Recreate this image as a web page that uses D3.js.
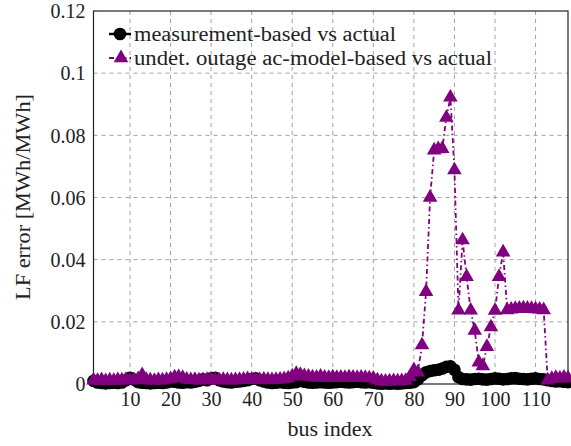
<!DOCTYPE html>
<html>
<head>
<meta charset="utf-8">
<script src="https://cdn.jsdelivr.net/npm/d3@7"></script>
<style>
  body { margin: 0; background: #fff; }
  text { font-family: "Liberation Serif", "DejaVu Serif", serif; fill: #222; }
</style>
</head>
<body>
<div id="chart"></div>
<script>
// bus 1..118
var buses = d3.range(1, 119);

// measurement-based vs actual
var measErr = [
  0.0010, 0.0005, 0.0003, 0.0002, 0.0003, 0.0004, 0.0003, 0.0005, 0.0012, 0.0020,
  0.0014, 0.0006, 0.0004, 0.0003, 0.0002, 0.0003, 0.0004, 0.0003, 0.0005, 0.0008,
  0.0007, 0.0005, 0.0004, 0.0006, 0.0005, 0.0007, 0.0010, 0.0015, 0.0012, 0.0018,
  0.0020, 0.0012, 0.0008, 0.0006, 0.0005, 0.0007, 0.0008, 0.0010, 0.0012, 0.0016,
  0.0018, 0.0012, 0.0008, 0.0005, 0.0003, 0.0004, 0.0006, 0.0004, 0.0003, 0.0005,
  0.0006, 0.0010, 0.0007, 0.0005, 0.0004, 0.0005, 0.0006, 0.0005, 0.0004, 0.0005,
  0.0006, 0.0007, 0.0006, 0.0005, 0.0006, 0.0007, 0.0006, 0.0005, 0.0006, 0.0004,
  0.0002, 0.0001, 0.0002, 0.0001, 0.0002, 0.0001, 0.0002, 0.0003, 0.0004, 0.0006,
  0.0015, 0.0028, 0.0038, 0.0042, 0.0044, 0.0046, 0.0050, 0.0055, 0.0057, 0.0046,
  0.0022, 0.0016, 0.0015, 0.0014, 0.0016, 0.0017, 0.0015, 0.0014, 0.0016, 0.0018,
  0.0017, 0.0015, 0.0016, 0.0018, 0.0019, 0.0017, 0.0016, 0.0015, 0.0017, 0.0018,
  0.0016, 0.0015, 0.0012, 0.0010, 0.0008, 0.0009, 0.0007, 0.0006
];

// undet. outage ac-model-based vs actual
var acErr = [
  0.0012, 0.0011, 0.0013, 0.0010, 0.0012, 0.0011, 0.0013, 0.0012, 0.0014, 0.0012,
  0.0013, 0.0016, 0.0029, 0.0014, 0.0012, 0.0011, 0.0013, 0.0012, 0.0014, 0.0016,
  0.0022, 0.0023, 0.0020, 0.0015, 0.0013, 0.0014, 0.0012, 0.0013, 0.0014, 0.0015,
  0.0013, 0.0012, 0.0014, 0.0013, 0.0012, 0.0013, 0.0014, 0.0015, 0.0016, 0.0015,
  0.0014, 0.0013, 0.0015, 0.0014, 0.0013, 0.0014, 0.0015, 0.0016, 0.0019, 0.0025,
  0.0033, 0.0030, 0.0026, 0.0024, 0.0022, 0.0021, 0.0024, 0.0021, 0.0020, 0.0022,
  0.0020, 0.0021, 0.0020, 0.0022, 0.0021, 0.0020, 0.0021, 0.0020, 0.0019, 0.0018,
  0.0012, 0.0009, 0.0008, 0.0009, 0.0010, 0.0009, 0.0010, 0.0011, 0.0022, 0.0045,
  0.0038, 0.0125, 0.0297, 0.0600, 0.0752, 0.0756, 0.0757, 0.0857, 0.0922, 0.0688,
  0.0237, 0.0463, 0.0345, 0.0237, 0.0172, 0.0070, 0.0058, 0.0120, 0.0183, 0.0236,
  0.0345, 0.0424, 0.0238, 0.0240, 0.0242, 0.0243, 0.0244, 0.0243, 0.0242, 0.0241,
  0.0240, 0.0238, 0.0012, 0.0017, 0.0020, 0.0018, 0.0021, 0.0019
];

var xTicks = [10, 20, 30, 40, 50, 60, 70, 80, 90, 100, 110];
var yTicks = [0, 0.02, 0.04, 0.06, 0.08, 0.1, 0.12];
var yTickLabels = ["0", "0.02", "0.04", "0.06", "0.08", "0.1", "0.12"];
var seriesNames = ["measurement-based vs actual", "undet. outage ac-model-based vs actual"];

var svgWidth = 571;
var svgHeight = 446;
var plotLeft = 93.5, plotRight = 568, plotTop = 11, plotBottom = 384;
var purple = "#800080";

var svg = d3.select("#chart")
  .append("svg")
  .attr("width", svgWidth)
  .attr("height", svgHeight);

var x = d3.scaleLinear().domain([1, 118]).range([plotLeft, plotRight]);
var y = d3.scaleLinear().domain([0, 0.12]).range([plotBottom, plotTop]);

// grid
svg.append("g").selectAll("line")
  .data(xTicks)
  .enter().append("line")
  .attr("x1", d => x(d)).attr("x2", d => x(d))
  .attr("y1", plotTop).attr("y2", plotBottom)
  .attr("stroke", "#8a8a8a").attr("stroke-width", 0.8)
  .attr("stroke-dasharray", "4,4");

svg.append("g").selectAll("line")
  .data(yTicks.slice(1, -1))
  .enter().append("line")
  .attr("y1", d => y(d)).attr("y2", d => y(d))
  .attr("x1", plotLeft).attr("x2", plotRight)
  .attr("stroke", "#8a8a8a").attr("stroke-width", 0.8)
  .attr("stroke-dasharray", "4,4");

// frame
svg.append("rect")
  .attr("x", plotLeft).attr("y", plotTop)
  .attr("width", plotRight - plotLeft).attr("height", plotBottom - plotTop)
  .attr("fill", "none").attr("stroke", "#222").attr("stroke-width", 1.2);

// tick labels
var bottomAxis = d3.axisBottom(x).tickValues(xTicks).tickSize(0).tickPadding(0);
var gx = svg.append("g").attr("transform", `translate(0, ${plotBottom})`).call(bottomAxis);
gx.select(".domain").remove();
gx.selectAll("text")
  .attr("y", 22).attr("dy", null)
  .attr("font-size", 20).attr("font-family", null).attr("fill", "#222");

var leftAxis = d3.axisLeft(y).tickValues(yTicks).tickSize(0).tickPadding(0)
  .tickFormat((d, i) => yTickLabels[i]);
var gy = svg.append("g").attr("transform", `translate(${plotLeft - 8}, 0)`).call(leftAxis);
gy.select(".domain").remove();
gy.selectAll("text")
  .attr("x", 0).attr("dy", "0.34em")
  .attr("font-size", 20).attr("font-family", null).attr("fill", "#222");

// series
var line = d3.line().x((d, i) => x(buses[i])).y(d => y(d));
var triangle = d3.symbol().type(d3.symbolTriangle).size(92);

svg.append("path")
  .datum(measErr)
  .attr("d", line)
  .attr("fill", "none").attr("stroke", "#000").attr("stroke-width", 2.5);

svg.append("g").selectAll("circle")
  .data(measErr)
  .enter().append("circle")
  .attr("cx", (d, i) => x(buses[i]))
  .attr("cy", d => y(d))
  .attr("r", 6.3)
  .attr("fill", "#000");

svg.append("path")
  .datum(acErr)
  .attr("d", line)
  .attr("fill", "none").attr("stroke", purple).attr("stroke-width", 1.8)
  .attr("stroke-dasharray", "5,3,1.5,3");

svg.append("g").selectAll("path")
  .data(acErr)
  .enter().append("path")
  .attr("d", triangle)
  .attr("transform", (d, i) => `translate(${x(buses[i])}, ${y(d)})`)
  .attr("fill", purple);

// legend
var legend = svg.append("g");
legend.append("line")
  .attr("x1", 109).attr("x2", 131).attr("y1", 34).attr("y2", 34)
  .attr("stroke", "#000").attr("stroke-width", 2.5);
legend.append("circle").attr("cx", 120).attr("cy", 34).attr("r", 6.3).attr("fill", "#000");
legend.append("line")
  .attr("x1", 109).attr("x2", 131).attr("y1", 58).attr("y2", 58)
  .attr("stroke", purple).attr("stroke-width", 1.8)
  .attr("stroke-dasharray", "5,3,1.5,3");
legend.append("path").attr("d", triangle).attr("transform", "translate(121, 58)").attr("fill", purple);

legend.selectAll("text.lg")
  .data(seriesNames)
  .enter().append("text")
  .attr("class", "lg")
  .attr("x", 134)
  .attr("y", (d, i) => 41 + i * 24)
  .attr("font-size", 20)
  .attr("textLength", (d, i) => i === 0 ? 262 : 358)
  .attr("lengthAdjust", "spacingAndGlyphs")
  .text(d => d);

// axis titles
svg.append("text")
  .attr("transform", "translate(30, 197) rotate(-90)")
  .attr("text-anchor", "middle")
  .attr("font-size", 20)
  .attr("textLength", 206)
  .attr("lengthAdjust", "spacingAndGlyphs")
  .text("LF error [MWh/MWh]");

svg.append("text")
  .attr("x", 330).attr("y", 436)
  .attr("text-anchor", "middle")
  .attr("font-size", 20)
  .attr("textLength", 85)
  .attr("lengthAdjust", "spacingAndGlyphs")
  .text("bus index");
</script>
</body>
</html>
